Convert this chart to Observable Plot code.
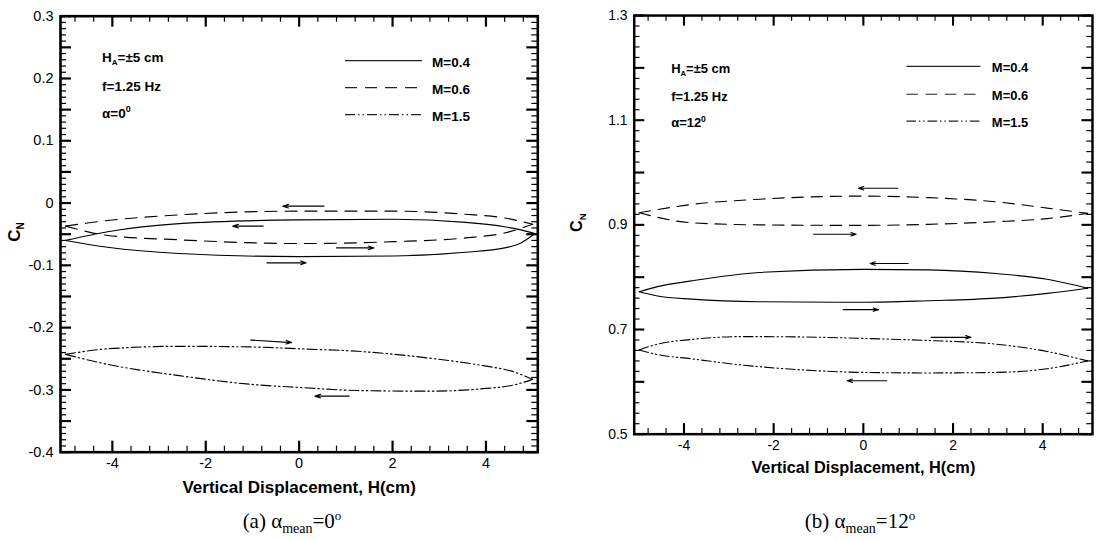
<!DOCTYPE html>
<html>
<head>
<meta charset="utf-8">
<script src="https://cdn.jsdelivr.net/npm/d3@7"></script>
<script src="https://cdn.jsdelivr.net/npm/@observablehq/plot@0.6"></script>
<style>
html,body{margin:0;padding:0;background:#fff;overflow:hidden;}
#wrap{position:relative;width:1109px;height:540px;overflow:hidden;background:#fff;}
.panel{position:absolute;top:0;}
.cap{position:absolute;top:509px;width:300px;text-align:center;font-family:"Liberation Serif","Times New Roman",serif;font-size:21px;line-height:24px;color:#000;white-space:nowrap;}
.cap .sub{font-size:14px;position:relative;top:5px;}
.cap .sup{font-size:13px;position:relative;top:-8px;}
</style>
</head>
<body>
<div id="wrap">
  <div class="panel" id="pa" style="left:0px"></div>
  <div class="panel" id="pb" style="left:555px"></div>
  <div class="cap" style="left:142px">(a) α<span class="sub">mean</span>=0<span class="sup">o</span></div>
  <div class="cap" style="left:710px">(b) α<span class="sub">mean</span>=12<span class="sup">o</span></div>
</div>
<script>
// ---------------- DATA ----------------
const seriesNames = ["M=0.4", "M=0.6", "M=1.5"];

// Panel (a): alpha_mean = 0
const a_M04_x     = [-5, -4.1, -2.57, 0, 2.02, 3.56, 4.4, 4.75, 5.05];
const a_M04_upper = [-0.060, -0.046, -0.033, -0.027, -0.026, -0.031, -0.038, -0.043, -0.049];
const a_M04_lower = [-0.060, -0.071, -0.081, -0.086, -0.085, -0.079, -0.072, -0.064, -0.049];
const a_M06_x     = [-5, -4.1, -2.57, 0, 2.02, 3.56, 4.4, 5];
const a_M06_upper = [-0.037, -0.028, -0.019, -0.013, -0.013, -0.018, -0.024, -0.034];
const a_M06_lower = [-0.037, -0.052, -0.059, -0.065, -0.062, -0.056, -0.048, -0.034];
const a_M15_x     = [-5, -4.1, -2.57, -1.04, 0, 1.26, 2.79, 3.94, 4.6, 5];
const a_M15_upper = [-0.243, -0.234, -0.230, -0.231, -0.234, -0.238, -0.249, -0.261, -0.271, -0.283];
const a_M15_lower = [-0.243, -0.259, -0.277, -0.291, -0.296, -0.301, -0.302, -0.298, -0.292, -0.283];
const a_arrow_x1 = [0.53, -0.77, 0.80, -0.69, -1.04, 1.07];
const a_arrow_x2 = [-0.35, -1.42, 1.60, 0.15, -0.16, 0.34];
const a_arrow_y1 = [-0.005, -0.037, -0.072, -0.096, -0.220, -0.310];
const a_arrow_y2 = [-0.005, -0.037, -0.072, -0.096, -0.224, -0.310];

// Panel (b): alpha_mean = 12
const b_M04_x     = [-5, -4.59, -3.83, -2.32, 0, 1.45, 2.96, 4.10, 5];
const b_M04_upper = [0.772, 0.782, 0.793, 0.809, 0.815, 0.814, 0.807, 0.796, 0.779];
const b_M04_lower = [0.772, 0.764, 0.758, 0.753, 0.752, 0.755, 0.760, 0.769, 0.779];
const b_M06_x     = [-5, -3.83, -2.32, 0, 1.45, 2.96, 4.10, 5];
const b_M06_upper = [0.923, 0.939, 0.949, 0.955, 0.952, 0.944, 0.932, 0.922];
const b_M06_lower = [0.923, 0.904, 0.900, 0.899, 0.901, 0.906, 0.912, 0.922];
const b_M15_x     = [-5, -4.59, -3.83, -2.70, -1.57, 0, 1.45, 2.96, 4.10, 5];
const b_M15_upper = [0.661, 0.672, 0.681, 0.6865, 0.686, 0.683, 0.679, 0.672, 0.658, 0.640];
const b_M15_lower = [0.661, 0.652, 0.644, 0.632, 0.624, 0.618, 0.617, 0.618, 0.625, 0.640];
const b_arrow_x1 = [0.77, -1.11, 1.00, -0.45, 1.51, 0.52];
const b_arrow_x2 = [-0.11, -0.16, 0.15, 0.34, 2.40, -0.36];
const b_arrow_y1 = [0.970, 0.882, 0.826, 0.738, 0.685, 0.602];
const b_arrow_y2 = [0.970, 0.882, 0.826, 0.738, 0.685, 0.602];

// Tick labels
const xTickLabels  = [-4, -2, 0, 2, 4];
const yTickLabelsA = [-0.4, -0.3, -0.2, -0.1, 0, 0.1, 0.2, 0.3];
const yTickLabelsB = [0.5, 0.7, 0.9, 1.1, 1.3];

// Texts
const xTitle = "Vertical Displacement, H(cm)";
const infoA = [[["H",""],["A","sub"],["=±5 cm",""]], [["f=1.25 Hz",""]], [["α=0",""],["0","sup"]]];
const infoB = [[["H",""],["A","sub"],["=±5 cm",""]], [["f=1.25 Hz",""]], [["α=12",""],["0","sup"]]];

// ---------------- HELPERS ----------------
const FONT = '"Liberation Sans", Arial, Helvetica, sans-serif';
const DASH = {"M=0.4": null, "M=0.6": "12,8", "M=1.5": "10,3,1.5,3,1.5,3"};

function loopRows(name, xs, upper, lower) {
  return [
    ...xs.map((x, i) => ({series: name, branch: name + "-lower", x, y: lower[i]})),
    ...xs.map((x, i) => ({series: name, branch: name + "-upper", x, y: upper[i]}))
  ];
}
function arrowRows(x1, x2, y1, y2) {
  return x1.map((v, i) => ({x1: v, x2: x2[i], y1: y1[i], y2: y2[i]}));
}

const xMinor = d3.range(-12, 13).map(i => +(i * 0.4).toFixed(1)).filter(v => !xTickLabels.includes(v));
const yMajorA = d3.range(-8, 7).map(i => +(i * 0.05).toFixed(2));
const yMinorA = d3.range(-40, 31).filter(i => i % 5 !== 0).map(i => i / 100);
const yMajorB = d3.range(5, 14).map(i => i / 10);
const yMinorB = d3.range(25, 66).filter(i => i % 5 !== 0).map(i => i / 50);

function sideTicks(yMajor, yMinor, innerW, innerH) {
  const L = 11, S = 6;
  return [
    Plot.ruleX(xTickLabels, {insetTop: innerH - L, stroke: "#000", strokeWidth: 2.2}),
    Plot.ruleX(xTickLabels, {insetBottom: innerH - L, stroke: "#000", strokeWidth: 2.2}),
    Plot.ruleX(xMinor, {insetTop: innerH - S, stroke: "#000", strokeWidth: 1.2}),
    Plot.ruleX(xMinor, {insetBottom: innerH - S, stroke: "#000", strokeWidth: 1.2}),
    Plot.ruleY(yMajor, {insetRight: innerW - L, stroke: "#000", strokeWidth: 2.2}),
    Plot.ruleY(yMajor, {insetLeft: innerW - L, stroke: "#000", strokeWidth: 2.2}),
    Plot.ruleY(yMinor, {insetRight: innerW - S, stroke: "#000", strokeWidth: 1.2}),
    Plot.ruleY(yMinor, {insetLeft: innerW - S, stroke: "#000", strokeWidth: 1.2})
  ];
}

function overlay(cfg) {
  return () => {
    const g = d3.create("svg:g").attr("font-family", FONT).attr("fill", "#000").attr("text-anchor", "start");
    // info block
    cfg.info.forEach((parts, i) => {
      const t = g.append("text").attr("x", cfg.ml + cfg.infoDx).attr("y", cfg.mt + cfg.infoDy[i])
        .attr("text-anchor", "start").attr("font-weight", "bold").attr("font-size", 13.5);
      let prevSub = false;
      parts.forEach(([s, kind]) => {
        const ts = t.append("tspan").text(s);
        if (kind === "sub") { ts.attr("font-size", 8).attr("dy", 3); prevSub = true; }
        else if (kind === "sup") { ts.attr("font-size", 9).attr("dy", -6); }
        else if (prevSub) { ts.attr("dy", -3); prevSub = false; }
      });
    });
    // legend
    seriesNames.forEach((name, i) => {
      const y = cfg.mt + cfg.legDy[i];
      const ln = g.append("line").attr("x1", cfg.ml + cfg.legX1).attr("x2", cfg.ml + cfg.legX2)
        .attr("y1", y).attr("y2", y).attr("stroke", "#222").attr("stroke-width", 1.2);
      if (DASH[name]) ln.attr("stroke-dasharray", DASH[name]);
      g.append("text").attr("x", cfg.ml + cfg.legTx).attr("y", y + 6)
        .attr("text-anchor", "start").attr("font-weight", "bold").attr("font-size", 13.5).text(name);
    });
    // C_N axis title
    const c = g.append("text").attr("transform", `translate(${cfg.cnX},${cfg.cnY}) rotate(-90)`)
      .attr("text-anchor", "middle").attr("font-weight", "bold").attr("font-size", 17);
    c.append("tspan").text("C");
    c.append("tspan").text("N").attr("font-size", 10).attr("dy", 4);
    return g.node();
  };
}

function panel(cfg) {
  const innerW = cfg.width - cfg.ml - cfg.mr;
  const innerH = cfg.height - cfg.mt - cfg.mb;
  const rows = [
    ...loopRows("M=0.4", cfg.M04[0], cfg.M04[1], cfg.M04[2]),
    ...loopRows("M=0.6", cfg.M06[0], cfg.M06[1], cfg.M06[2]),
    ...loopRows("M=1.5", cfg.M15[0], cfg.M15[1], cfg.M15[2])
  ];
  return Plot.plot({
    width: cfg.width, height: cfg.height,
    marginLeft: cfg.ml, marginRight: cfg.mr, marginTop: cfg.mt, marginBottom: cfg.mb,
    style: {fontFamily: FONT, fontSize: "14.5px", color: "#000", background: "#fff", overflow: "visible"},
    x: {domain: [-5.11, 5.11], ticks: xTickLabels, tickSize: 0, tickPadding: 6, tickFormat: d => String(d), label: null},
    y: {domain: cfg.yDomain, ticks: cfg.yLabels, tickSize: 0, tickPadding: 7, tickFormat: d => String(d), label: null},
    marks: [
      ...seriesNames.map(name => Plot.line(rows.filter(r => r.series === name), {
        x: "x", y: "y", z: "branch", curve: "monotone-x",
        stroke: "#000", strokeWidth: 1.15,
        ...(DASH[name] ? {strokeDasharray: DASH[name]} : {})
      })),
      Plot.arrow(cfg.arrows, {x1: "x1", y1: "y1", x2: "x2", y2: "y2",
        stroke: "#000", strokeWidth: 1.1, headLength: 8, headAngle: 36}),
      ...sideTicks(cfg.yMajor, cfg.yMinor, innerW, innerH),
      Plot.frame({stroke: "#000", strokeWidth: 2.6}),
      Plot.text([xTitle], {text: d => d, frameAnchor: "bottom", dy: 40.5,
        fontWeight: "bold", fontSize: 17, fill: "#000"}),
      overlay(cfg)
    ]
  });
}

// ---------------- PANELS ----------------
const common = {width: 555, height: 505, mt: 15.7, mb: 53.3};

document.getElementById("pa").append(panel({
  ...common, ml: 60, mr: 17.7,
  yDomain: [-0.4, 0.3], yLabels: yTickLabelsA, yMajor: yMajorA, yMinor: yMinorA,
  M04: [a_M04_x, a_M04_upper, a_M04_lower],
  M06: [a_M06_x, a_M06_upper, a_M06_lower],
  M15: [a_M15_x, a_M15_upper, a_M15_lower],
  arrows: arrowRows(a_arrow_x1, a_arrow_x2, a_arrow_y1, a_arrow_y2),
  info: infoA, infoDx: 42, infoDy: [46, 75, 102],
  legDy: [45, 72, 99], legX1: 285, legX2: 362, legTx: 372,
  cnX: 20, cnY: 232
}));

document.getElementById("pb").append(panel({
  ...common, width: 577, ml: 82, mr: 17.7,
  yDomain: [0.5, 1.3], yLabels: yTickLabelsB, yMajor: yMajorB, yMinor: yMinorB,
  M04: [b_M04_x, b_M04_upper, b_M04_lower],
  M06: [b_M06_x, b_M06_upper, b_M06_lower],
  M15: [b_M15_x, b_M15_upper, b_M15_lower],
  arrows: arrowRows(b_arrow_x1, b_arrow_x2, b_arrow_y1, b_arrow_y2),
  info: infoB, infoDx: 39, infoDy: [60.5, 89, 117],
  legDy: [53.5, 82.5, 110.5], legX1: 284, legX2: 361, legTx: 373,
  cnX: 28, cnY: 232
}));
</script>
</body>
</html>
